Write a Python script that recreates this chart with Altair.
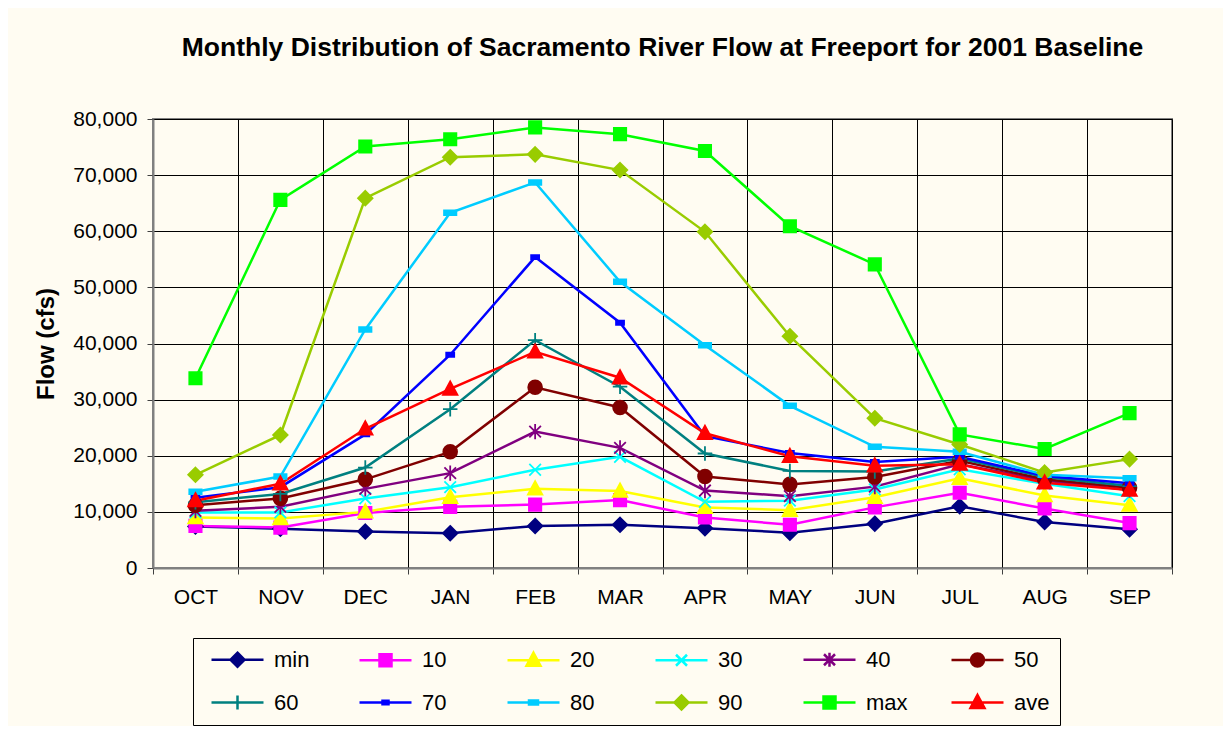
import altair as alt
import pandas as pd

# ---------------- data ----------------
months = ["OCT", "NOV", "DEC", "JAN", "FEB", "MAR", "APR", "MAY", "JUN", "JUL", "AUG", "SEP"]
series_names = ["min", "10", "20", "30", "40", "50", "60", "70", "80", "90", "max", "ave"]

flow_min = [7400, 7000, 6500, 6200, 7500, 7700, 7100, 6300, 7900, 11000, 8200, 6900]
flow_10 = [7500, 7200, 9800, 10900, 11300, 12100, 9000, 7700, 10800, 13400, 10600, 8000]
flow_20 = [9000, 8800, 10000, 12600, 14100, 13700, 10800, 10300, 12600, 16000, 12900, 11200]
flow_30 = [9900, 9900, 12400, 14400, 17500, 19800, 11800, 12000, 14000, 17600, 15000, 12800]
flow_40 = [10200, 10900, 14100, 16900, 24300, 21400, 13800, 12800, 14500, 18500, 15600, 13900]
flow_50 = [11200, 12400, 15800, 20700, 32200, 28600, 16300, 14900, 16200, 19100, 15800, 14300]
flow_60 = [11700, 13200, 17900, 28300, 40600, 32300, 20400, 17300, 17200, 19500, 16200, 14600]
flow_70 = [12500, 14400, 23800, 38000, 55400, 43700, 23500, 20500, 18900, 19800, 16400, 15100]
flow_80 = [13600, 16300, 42500, 63300, 68700, 51000, 39700, 28900, 21600, 20700, 16600, 16000]
flow_90 = [16600, 23700, 65900, 73200, 73700, 70900, 59900, 41300, 26700, 22000, 17000, 19400]
flow_max = [33800, 65600, 75100, 76400, 78500, 77300, 74300, 60900, 54100, 23800, 21200, 27600]
flow_ave = [12000, 15000, 24800, 31900, 38500, 33900, 24000, 19900, 18200, 18500, 15200, 13900]

y_ticks = [0, 10000, 20000, 30000, 40000, 50000, 60000, 70000, 80000]

title_text = "Monthly Distribution of Sacramento River Flow at Freeport for 2001 Baseline"

# ---------------- styles ----------------
colors = ["#000080", "#FF00FF", "#FFFF00", "#00FFFF", "#800080", "#800000",
          "#008080", "#0000FF", "#00CCFF", "#99CC00", "#00FF00", "#FF0000"]

# marker shapes for the plot (unit box -1..1)
plot_paths = [
    "M0,-1L1,0L0,1L-1,0Z",
    "M-0.85,-0.85H0.85V0.85H-0.85Z",
    "M0,-1.05L1,0.8H-1Z",
    "M-0.8,-0.8L0.8,0.8M-0.8,0.8L0.8,-0.8",
    "M-0.8,-0.8L0.8,0.8M-0.8,0.8L0.8,-0.8M0,-1.05V1.05",
    "M-0.95,0A0.95,0.95 0 1,0 0.95,0A0.95,0.95 0 1,0 -0.95,0Z",
    "M-1,0H1M0,-1V1",
    "M-0.55,-0.28H0.55V0.28H-0.55Z",
    "M-0.85,-0.32H0.85V0.32H-0.85Z",
    "M0,-1L1,0L0,1L-1,0Z",
    "M-0.85,-0.85H0.85V0.85H-0.85Z",
    "M0,-1.05L1,0.8H-1Z",
]

# legend symbols: line segment + marker (unit = 10 px, segment +-26 px)
seg = "M-2.6,0H2.6"
legend_paths = [
    seg + "M0,-0.7L0.7,0L0,0.7L-0.7,0Z",
    seg + "M-0.6,-0.6H0.6V0.6H-0.6Z",
    seg + "M0,-0.75L0.7,0.55H-0.7Z",
    seg + "M-0.55,-0.55L0.55,0.55M-0.55,0.55L0.55,-0.55",
    seg + "M-0.55,-0.55L0.55,0.55M-0.55,0.55L0.55,-0.55M0,-0.7V0.7",
    seg + "M-0.65,0A0.65,0.65 0 1,0 0.65,0A0.65,0.65 0 1,0 -0.65,0Z",
    seg + "M0,-0.7V0.7",
    seg + "M-0.3,-0.18H0.3V0.18H-0.3Z",
    seg + "M-0.45,-0.2H0.45V0.2H-0.45Z",
    seg + "M0,-0.7L0.7,0L0,0.7L-0.7,0Z",
    seg + "M-0.6,-0.6H0.6V0.6H-0.6Z",
    seg + "M0,-0.75L0.7,0.55H-0.7Z",
]

all_series = [flow_min, flow_10, flow_20, flow_30, flow_40, flow_50,
              flow_60, flow_70, flow_80, flow_90, flow_max, flow_ave]

rows = []
for s, vals in zip(series_names, all_series):
    for i, (m, v) in enumerate(zip(months, vals)):
        rows.append({"series": s, "month": m, "mi": i, "flow": v})
df = pd.DataFrame(rows)

FONT = "Liberation Sans"
BG = "#FFFCF2"

x_enc = alt.X(
    "month:N", sort=months, bandPosition=0.5,
    scale=alt.Scale(type="band", paddingInner=0, paddingOuter=0),
    axis=alt.Axis(title=None, labelAngle=0, tickBand="extent", grid=True,
                  gridColor="#000000", gridWidth=1, tickSize=6, tickColor="#404040",
                  domainColor="#808080", domainWidth=2, labelFontSize=21,
                  labelPadding=12, labelColor="#000000", labelFont=FONT),
)
y_enc = alt.Y(
    "flow:Q",
    scale=alt.Scale(domain=[0, 80000], nice=False),
    axis=alt.Axis(values=y_ticks, format=",.0f", grid=True, gridColor="#000000",
                  gridWidth=1, tickSize=6, tickColor="#404040",
                  domainColor="#808080", domainWidth=2, labelFontSize=21,
                  labelPadding=10, labelColor="#000000", labelFont=FONT,
                  title="Flow (cfs)", titleFontSize=24, titleFontWeight="bold",
                  titlePadding=14, titleColor="#000000", titleFont=FONT),
)

base = alt.Chart(df)

lines = base.mark_line(strokeWidth=2.5).encode(
    x=x_enc, y=y_enc,
    color=alt.Color("series:N", scale=alt.Scale(domain=series_names, range=colors), legend=None),
    order=alt.Order("mi:Q"),
)

points = base.mark_point(size=210, strokeWidth=1.8, opacity=1).encode(
    x=x_enc, y=y_enc,
    fill=alt.Fill("series:N", scale=alt.Scale(domain=series_names, range=colors), legend=None),
    stroke=alt.Stroke("series:N", scale=alt.Scale(domain=series_names, range=colors), legend=None),
    shape=alt.Shape("series:N", scale=alt.Scale(domain=series_names, range=plot_paths), legend=None),
)

leg = alt.Legend(
    title=None, orient="none", legendX=40, legendY=519, direction="horizontal",
    columns=6, gridAlign="all", columnPadding=35, rowPadding=18,
    symbolSize=400, symbolStrokeWidth=2.5, symbolOffset=23,
    labelFontSize=22, labelOffset=25,
    labelFont=FONT, labelColor="#000000", padding=10,
    strokeColor="#000000", fillColor=BG,
)

legend_layer = alt.Chart(df).transform_filter("false").mark_point(opacity=1, filled=False).encode(
    fill=alt.Fill("series:N", scale=alt.Scale(domain=series_names, range=colors), legend=leg),
    stroke=alt.Stroke("series:N", scale=alt.Scale(domain=series_names, range=colors), legend=leg),
    shape=alt.Shape("series:N", scale=alt.Scale(domain=series_names, range=legend_paths), legend=leg),
)

chart = alt.layer(lines, points, legend_layer).resolve_scale(
    fill="independent", stroke="independent", shape="independent"
).properties(
    width=1019, height=449,
    title=alt.Title(title_text, fontSize=26.5, fontWeight="bold", font=FONT,
                    color="#000000", anchor="middle", frame="group",
                    baseline="alphabetic", offset=26),
    autosize=alt.AutoSizeParams(type="none"),
    padding={"left": 145, "top": 111, "right": 51, "bottom": 158},
).configure(background=BG).configure_view(stroke="#808080", strokeWidth=2, fill=BG)

chart.save("out.html", embed_options={"renderer": "svg", "actions": False})
